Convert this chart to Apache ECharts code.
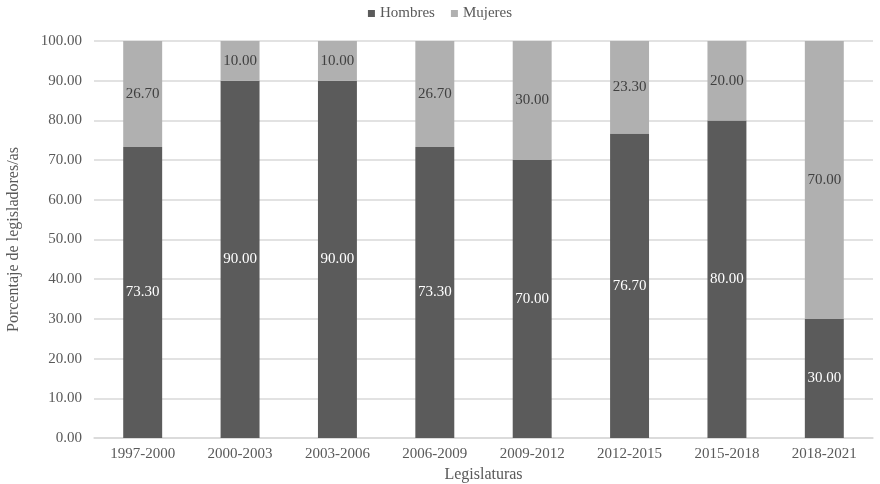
<!DOCTYPE html>
<html>
<head>
<meta charset="utf-8">
<script src="https://cdn.jsdelivr.net/npm/echarts@6/dist/echarts.min.js"></script>
<style>
  html, body { margin: 0; padding: 0; background: #fff; }
  #chart { width: 880px; height: 484px; }
</style>
</head>
<body>
<div id="chart"></div>
<script>
const categories = ['1997-2000', '2000-2003', '2003-2006', '2006-2009', '2009-2012', '2012-2015', '2015-2018', '2018-2021']
const hombres = [73.3, 90, 90, 73.3, 70, 76.7, 80, 30]
const mujeres = [26.7, 10, 10, 26.7, 30, 23.3, 20, 70]

const font = 'Liberation Serif, Times New Roman, serif'
const chart = echarts.init(document.getElementById('chart'))

chart.setOption({
  animation: false,
  textStyle: { fontFamily: font },
  legend: {
    top: 1, left: 'center', itemWidth: 7, itemHeight: 7, itemGap: 16,
    icon: 'rect',
    textStyle: { fontFamily: font, fontSize: 15, color: '#595959' },
    data: ['Hombres', 'Mujeres']
  },
  grid: { left: 94, right: 7, top: 41, bottom: 46, outerBoundsMode: 'none', containLabel: false },
  xAxis: {
    type: 'category', data: categories,
    name: 'Legislaturas', nameLocation: 'middle', nameGap: 27,
    nameTextStyle: { fontFamily: font, fontSize: 16, color: '#595959' },
    axisLine: { lineStyle: { color: '#d9d9d9', width: 1.5 } },
    axisTick: { show: false },
    axisLabel: { fontFamily: font, fontSize: 15, color: '#595959', margin: 9 }
  },
  yAxis: {
    type: 'value', min: 0, max: 100, interval: 10,
    name: 'Porcentaje de legisladores/as', nameLocation: 'middle', nameGap: 72,
    nameTextStyle: { fontFamily: font, fontSize: 16, color: '#595959' },
    axisLine: { show: false }, axisTick: { show: false },
    axisLabel: { fontFamily: font, fontSize: 15, color: '#595959', margin: 12, formatter: v => v.toFixed(2) },
    splitLine: { lineStyle: { color: '#d9d9d9', width: 1.5 } }
  },
  series: [
    {
      name: 'Hombres', type: 'bar', stack: 'total', data: hombres, barWidth: '40%',
      itemStyle: { color: '#5b5b5b' },
      label: { show: true, position: 'inside', color: '#ffffff', fontFamily: font, fontSize: 15, formatter: p => p.value.toFixed(2) }
    },
    {
      name: 'Mujeres', type: 'bar', stack: 'total', data: mujeres, barWidth: '40%',
      itemStyle: { color: '#b0b0b0' },
      label: { show: true, position: 'inside', color: '#404040', fontFamily: font, fontSize: 15, formatter: p => p.value.toFixed(2) }
    }
  ]
})
</script>
</body>
</html>
